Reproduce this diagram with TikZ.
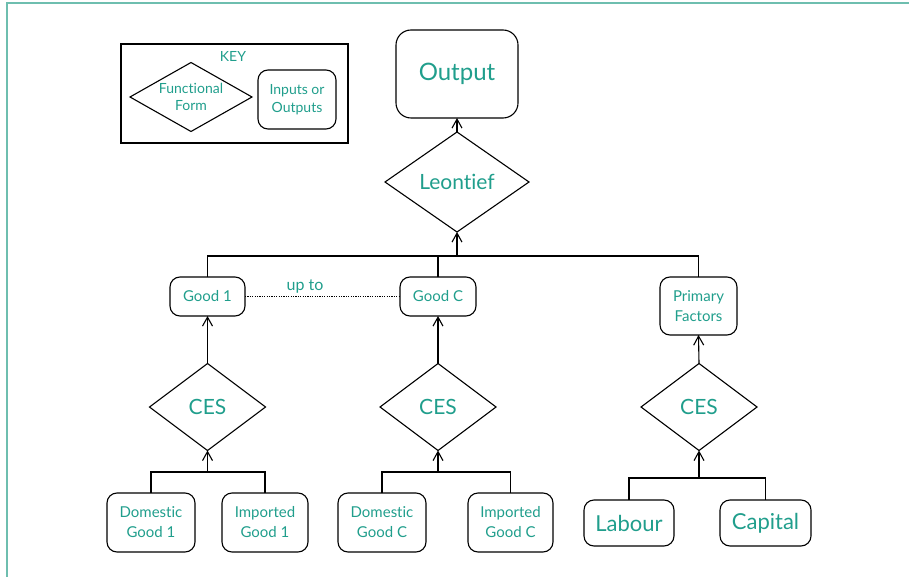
\documentclass[tikz,border=0pt]{standalone}
\usepackage{fontspec}
\setmainfont{Lato}[Ligatures={NoCommon}]
\usetikzlibrary{shapes.geometric,arrows.meta}
\definecolor{tealtext}{RGB}{32,158,140}
\definecolor{tealframe}{RGB}{110,190,175}

\tikzset{
  item/.style={draw, rectangle, rounded corners=10pt, line width=1.1pt,
    text=tealtext, align=center, inner sep=0pt, outer sep=0pt},
  form/.style={draw, diamond, line width=1.1pt, text=tealtext,
    inner sep=0pt, outer sep=0pt},
  keytxt/.style={text=tealtext, align=center, font=\fontsize{14}{17}\selectfont},
  link/.style={line width=1.1pt},
  arr/.style={line width=1.1pt, -{Straight Barb[length=9pt,width=10pt]}},
}

\begin{document}
\begin{tikzpicture}[x=1pt,y=-1pt]
    \useasboundingbox (0,0) rectangle (909,577);

    % Frame
    \draw[tealframe, line width=2pt] (6.5,577) -- (6.5,3.5) -- (909,3.5);

    % Key
    \draw[line width=1.1pt] (121,44) rectangle (348,143);
    \node[keytxt] (keylabel) at (233,56) {KEY};
    \node[form, minimum width=122pt, minimum height=69pt,
      label={[keytxt]center:Functional\\Form}] (keyform) at (191,97) {};
    \node[item, font=\fontsize{14}{18}\selectfont, minimum width=78pt,
      minimum height=59pt] (keyitem) at (297,99.5) {Inputs or\\Outputs};

    % Top level
    \node[item, rounded corners=15pt, minimum width=122pt, minimum height=88pt,
      font=\fontsize{24}{28}\selectfont] (output) at (457,74) {Output};
    \node[form, minimum width=144pt, minimum height=100pt,
      font=\fontsize{21}{25}\selectfont] (leontief) at (457,182) {Leontief};
    \draw[arr] (leontief.north) -- (output.south);

    % Middle level
    \node[item, minimum width=75pt, minimum height=39pt,
      font=\fontsize{15}{19}\selectfont] (good1) at (207.5,296.5) {Good 1};
    \node[item, minimum width=76pt, minimum height=39pt,
      font=\fontsize{15}{19}\selectfont] (goodc) at (438,296.5) {Good C};
    \node[item, minimum width=77pt, minimum height=58pt,
      font=\fontsize{15}{20}\selectfont] (primary) at (698.5,306) {Primary\\Factors};
    \draw[line width=0.8pt, dash pattern=on 1.2pt off 1.2pt] (good1.east) -- (goodc.west);
    \node[text=tealtext, font=\fontsize{16}{19}\selectfont] (upto) at (305,287) {up to};

    \coordinate (topbus) at (457,256);
    \draw[link] (good1.north) |- (topbus) -| (primary.north);
    \draw[link] (goodc.north) -- (goodc.north |- topbus);
    \draw[arr] (topbus) -- (leontief.south);

    % CES nests
    \foreach \nm/\x in {ces1/207.5, cesc/438, cesf/699}{
      \node[form, minimum width=116pt, minimum height=87pt,
        font=\fontsize{21}{25}\selectfont] (\nm) at (\x,407) {CES};
    }
    \draw[arr] (ces1.north) -- (good1.south);
    \draw[arr] (cesc.north) -- (goodc.south);
    \draw[arr] (cesf.north) -- (primary.south);

    % Bottom level
    \node[item, minimum width=88pt, minimum height=59pt,
      font=\fontsize{15}{20}\selectfont] (dom1) at (151,522.5) {Domestic\\Good 1};
    \node[item, minimum width=86pt, minimum height=59pt,
      font=\fontsize{15}{20}\selectfont] (imp1) at (265,522.5) {Imported\\Good 1};
    \node[item, minimum width=88pt, minimum height=59pt,
      font=\fontsize{15}{20}\selectfont] (domc) at (382,522.5) {Domestic\\Good C};
    \node[item, minimum width=85pt, minimum height=59pt,
      font=\fontsize{15}{20}\selectfont] (impc) at (510.5,522.5) {Imported\\Good C};
    \node[item, minimum width=90pt, minimum height=46pt,
      font=\fontsize{22}{26}\selectfont] (labour) at (629,523) {Labour};
    \node[item, minimum width=91pt, minimum height=46pt,
      font=\fontsize{22}{26}\selectfont] (capital) at (765.5,523) {Capital};

    \coordinate (bus1) at (207.5,472);
    \coordinate (busc) at (438,472);
    \coordinate (busf) at (699,478);
    \draw[link] (dom1.north) |- (bus1) -| (imp1.north);
    \draw[arr] (bus1) -- (ces1.south);
    \draw[link] (domc.north) |- (busc) -| (impc.north);
    \draw[arr] (busc) -- (cesc.south);
    \draw[link] (labour.north) |- (busf) -| (capital.north);
    \draw[arr] (busf) -- (cesf.south);
\end{tikzpicture}
\end{document}
